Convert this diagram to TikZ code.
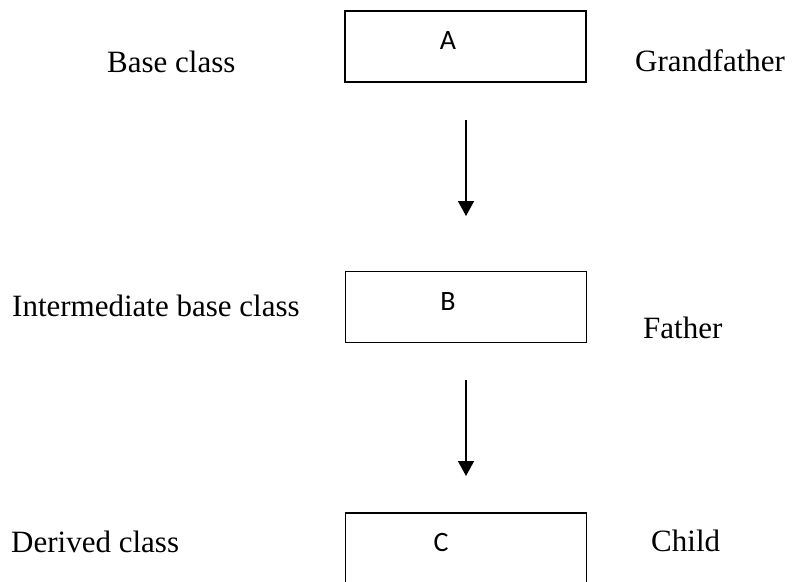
\documentclass[tikz,border=0pt]{standalone}
\usepackage{fontspec}
\setmainfont{Liberation Serif}
\newfontfamily\boxfont{Carlito}
\usetikzlibrary{arrows.meta}
\tikzset{
  clsbox/.style={draw=black, line width=1.6pt, minimum width=241pt, minimum height=71pt, inner sep=0pt, anchor=center},
  boxletter/.style={font=\boxfont\fontsize{28}{32}\selectfont, inner sep=0pt, anchor=center},
  lbl/.style={font=\fontsize{31}{36}\selectfont, inner sep=0pt, anchor=base west},
  inh/.style={line width=1.5pt, -{Triangle[width=16pt,length=15pt]}}
}
\begin{document}
\begin{tikzpicture}[x=1pt,y=-1pt]
\useasboundingbox (0,0) rectangle (792,581);
\clip (0,0) rectangle (792,581);
% boxes
\node[clsbox] (A) at (465.5,46.5) {};
\node[clsbox] (B) at (466,307) {};
\node[clsbox] (C) at (466,548.5) {};
% letters
\node[boxletter] (la) at (448,41) {A};
\node[boxletter] (lb) at (448,302) {B};
\node[boxletter] (lc) at (441,543) {C};
% labels
\node[lbl] (base) at (107,72) {Base class};
\node[lbl] (gf) at (635,71) {Grandfather};
\node[lbl] (inter) at (12,316) {Intermediate base class};
\node[lbl] (fa) at (643,338) {Father};
\node[lbl] (der) at (11,552) {Derived class};
\node[lbl] (ch) at (651,551) {Child};
% arrows
\coordinate (a1s) at (466,120);
\coordinate (a1e) at (466,216);
\coordinate (a2s) at (466,380);
\coordinate (a2e) at (466,476);
\draw[inh] (a1s) -- (a1e);
\draw[inh] (a2s) -- (a2e);
\end{tikzpicture}
\end{document}
